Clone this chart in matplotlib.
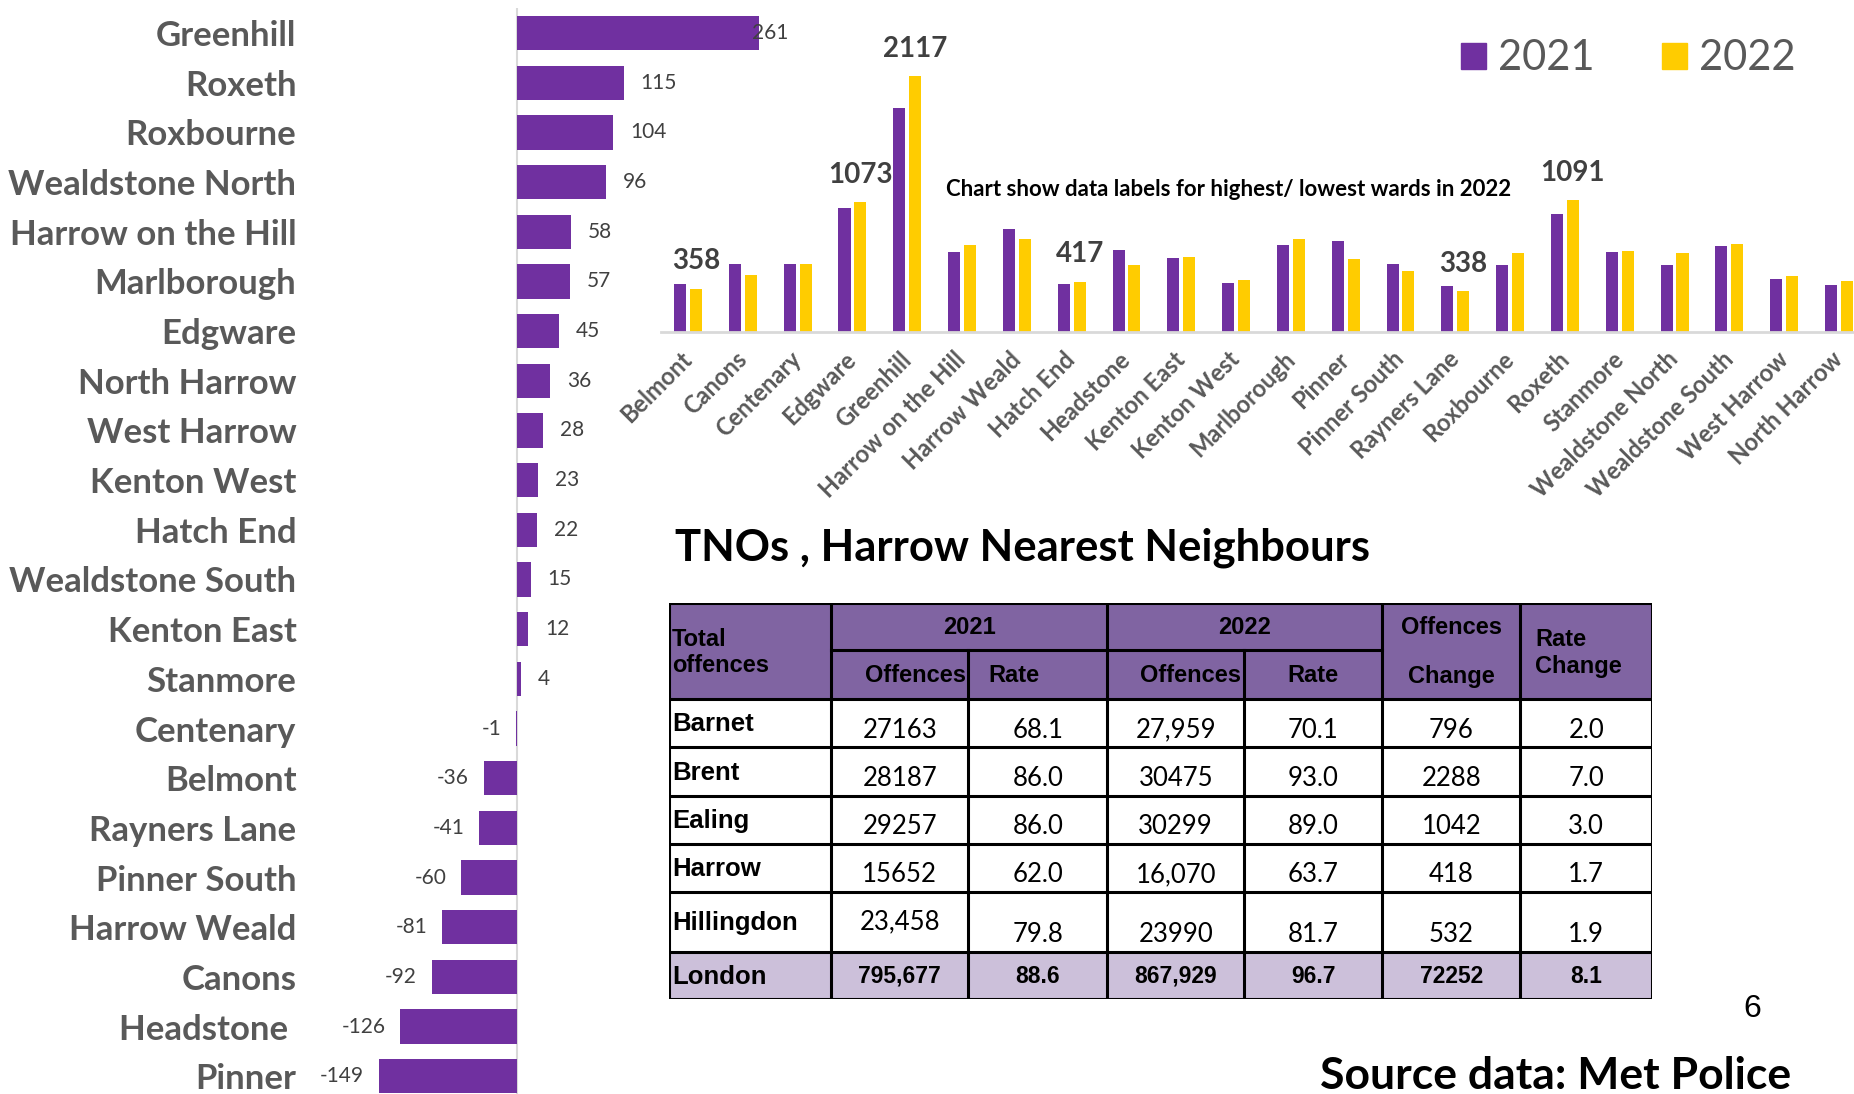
import matplotlib.pyplot as plt
from matplotlib.patches import Rectangle, Patch
import numpy as np

plt.rcParams['font.family'] = ['Lato', 'DejaVu Sans']

PURPLE = '#7030A0'
YELLOW = '#FFCC00'
GREY = '#595959'
DARK = '#404040'

# change in offences 2021 -> 2022 by ward (left panel, sorted)
change_wards = ['Greenhill', 'Roxeth', 'Roxbourne', 'Wealdstone North', 'Harrow on the Hill',
                'Marlborough', 'Edgware', 'North Harrow', 'West Harrow', 'Kenton West',
                'Hatch End', 'Wealdstone South', 'Kenton East', 'Stanmore', 'Centenary',
                'Belmont', 'Rayners Lane', 'Pinner South', 'Harrow Weald', 'Canons',
                'Headstone ', 'Pinner']
change_vals = [261, 115, 104, 96, 58, 57, 45, 36, 28, 23, 22, 15, 12, 4, -1,
               -36, -41, -60, -81, -92, -126, -149]

# offences by ward (top right panel)
wards = ['Belmont', 'Canons', 'Centenary', 'Edgware', 'Greenhill', 'Harrow on the Hill',
         'Harrow Weald', 'Hatch End', 'Headstone', 'Kenton East', 'Kenton West',
         'Marlborough', 'Pinner', 'Pinner South', 'Rayners Lane', 'Roxbourne', 'Roxeth',
         'Stanmore', 'Wealdstone North', 'Wealdstone South', 'West Harrow', 'North Harrow']
offences_2021 = [394, 565, 565, 1028, 1856, 663, 849, 395, 676, 608, 409,
                 716, 750, 565, 379, 551, 976, 662, 556, 714, 435, 389]
offences_2022 = [358, 473, 564, 1073, 2117, 721, 768, 417, 550, 620, 432,
                 773, 601, 505, 338, 655, 1091, 666, 652, 729, 463, 425]
labelled_wards = ['Belmont', 'Edgware', 'Greenhill', 'Hatch End', 'Rayners Lane', 'Roxeth']

# nearest neighbours table
boroughs = ['Barnet', 'Brent', 'Ealing', 'Harrow', 'Hillingdon', 'London']
off_2021 = ['27163', '28187', '29257', '15652', '23,458', '795,677']
rate_2021 = ['68.1', '86.0', '86.0', '62.0', '79.8', '88.6']
off_2022 = ['27,959', '30475', '30299', '16,070', '23990', '867,929']
rate_2022 = ['70.1', '93.0', '89.0', '63.7', '81.7', '96.7']
off_change = ['796', '2288', '1042', '418', '532', '72252']
rate_change = ['2.0', '7.0', '3.0', '1.7', '1.9', '8.1']

W, H = 1854, 1094
fig = plt.figure(figsize=(W / 100, H / 100), dpi=100)


def px_axes(x0, y0, x1, y1):
    # axes box given in pixels, origin top left
    return fig.add_axes([x0 / W, 1 - y1 / H, (x1 - x0) / W, (y1 - y0) / H])


# ---- top right: offences by ward (added first so the left panel sits on top)
ax_c = px_axes(660.6, 29.7, 1866.4, 332)
ax_c.patch.set_visible(False)
x = np.arange(len(wards))
ax_c.bar(x - 0.145, offences_2021, width=0.22, color=PURPLE)
ax_c.bar(x + 0.145, offences_2022, width=0.22, color=YELLOW)
ax_c.set_xlim(-0.5, len(wards) - 0.5)
ax_c.set_ylim(0, 2500)
ax_c.set_yticks([])
ax_c.set_xticks(x)
ax_c.set_xticklabels(wards, rotation=45, ha='right', va='center', rotation_mode='anchor',
                     fontsize=17, fontweight='bold', color=GREY)
ax_c.tick_params(axis='x', length=0, pad=17)
for side in ['top', 'left', 'right']:
    ax_c.spines[side].set_visible(False)
ax_c.spines['bottom'].set_color('#D9D9D9')
ax_c.spines['bottom'].set_linewidth(2)
for w in labelled_wards:
    i = wards.index(w)
    ax_c.annotate(str(offences_2022[i]), (i + 0.145, offences_2022[i]), xytext=(0, 14),
                  textcoords='offset points', ha='center', va='baseline',
                  fontsize=20, fontweight='bold', color=DARK)

fig.text(946 / W, 1 - 189 / H, 'Chart show data labels for highest/ lowest wards in 2022',
         ha='left', va='center', fontsize=16, fontweight='bold', color='black')

handles = [Patch(color=PURPLE, label='2021'), Patch(color=YELLOW, label='2022')]
fig.legend(handles=handles, loc='center left', bbox_to_anchor=(1461 / W, 1 - 58.5 / H), ncol=2,
           frameon=False, fontsize=30, handlelength=0.6, handleheight=0.6, handletextpad=0.3,
           columnspacing=1.6, borderpad=0, borderaxespad=0, labelcolor=GREY)

# ---- left: change by ward
ax_l = px_axes(368.7, 8.2, 776.6, 1101.1)
ax_l.patch.set_visible(False)
y = np.arange(len(change_wards))
ax_l.barh(y, change_vals, height=0.69, color=PURPLE, zorder=2)
ax_l.axvline(0, color='#D9D9D9', lw=1.5, zorder=1)
ax_l.set_xlim(-160, 280)
ax_l.set_ylim(len(change_wards) - 0.5, -0.5)
ax_l.set_yticks(y, change_wards)
ax_l.set_xticks([])
ax_l.tick_params(axis='y', length=0, pad=52, labelsize=25, labelcolor=GREY)
for t in ax_l.get_yticklabels():
    t.set_fontweight('bold')
for s in ax_l.spines.values():
    s.set_visible(False)
for i, v in enumerate(change_vals):
    if v >= 0:
        ax_l.text(min(v + 18, 254), i, str(v), ha='left', va='center', fontsize=15, color=DARK)
    else:
        ax_l.text(v - 16, i, str(v), ha='right', va='center', fontsize=15, color=DARK)

# ---- table
fig.text(675 / W, 1 - 548 / H, 'TNOs , Harrow Nearest Neighbours', ha='left', va='center',
         fontsize=31.4, fontweight='bold', color='black')

col_edges = [0, 162, 299, 438, 575, 713, 851, 983]
row_edges = [0, 47, 96, 144, 193, 241, 289, 349, 396]
ax_t = px_axes(669.2, 603, 669.2 + 983, 603 + 396)
ax_t.set_xlim(0, 983)
ax_t.set_ylim(396, 0)
ax_t.axis('off')

ax_t.add_patch(Rectangle((0, 0), 983, 96, facecolor='#8064A2', edgecolor='none'))
ax_t.add_patch(Rectangle((0, 349), 983, 47, facecolor='#CCC0DA', edgecolor='none'))
lw = 2.2
for yy in row_edges:
    if yy == 47:
        ax_t.plot([162, 713], [yy, yy], color='black', lw=lw)
    else:
        ax_t.plot([0, 983], [yy, yy], color='black', lw=lw, solid_capstyle='projecting')
for xx in col_edges:
    if xx in (299, 575):
        ax_t.plot([xx, xx], [47, 396], color='black', lw=lw)
    else:
        ax_t.plot([xx, xx], [0, 396], color='black', lw=lw, solid_capstyle='projecting')

arial = ['Liberation Sans', 'DejaVu Sans']
head = dict(fontsize=17, fontweight='bold', color='black', family=arial)
ax_t.text(3, 49.5, 'Total\noffences', ha='left', va='center', **head)
ax_t.text(300, 24, '2021', ha='center', va='center', **head)
ax_t.text(575.5, 24, '2022', ha='center', va='center', **head)
ax_t.text(297, 73, 'Offences', ha='right', va='center', **head)
ax_t.text(345, 73, 'Rate', ha='center', va='center', **head)
ax_t.text(572, 73, 'Offences', ha='right', va='center', **head)
ax_t.text(644, 73, 'Rate', ha='center', va='center', **head)
ax_t.text(782, 24, 'Offences', ha='center', va='center', **head)
ax_t.text(782, 73, 'Change', ha='center', va='center', **head)
ax_t.text(866, 50, 'Rate\nChange', ha='left', va='center', **head)

columns = [off_2021, rate_2021, off_2022, rate_2022, off_change, rate_change]
for r, name in enumerate(boroughs):
    yc = (row_edges[r + 2] + row_edges[r + 3]) / 2
    ax_t.text(3, yc + 1, name, ha='left', va='center', fontsize=18.5, fontweight='bold',
              color='black', family=arial)
    for c, col in enumerate(columns):
        xc = (col_edges[c + 1] + col_edges[c + 2]) / 2
        if name == 'London':
            ax_t.text(xc, yc + 1, col[r], ha='center', va='center', fontsize=16.5,
                      fontweight='bold', family=arial)
        else:
            dy = 7
            if name == 'Hillingdon':
                dy = 0 if c == 0 else 12
            ax_t.text(xc, yc + dy, col[r], ha='center', va='center', fontsize=18.5, color='black')

fig.text(1752 / W, 1 - 1009 / H, '6', ha='center', va='center', fontsize=23, family=arial)
fig.text(1791 / W, 1 - 1076 / H, 'Source data: Met Police', ha='right', va='center',
         fontsize=32, fontweight='bold', color='black')

fig.savefig('out.png', dpi=100)
